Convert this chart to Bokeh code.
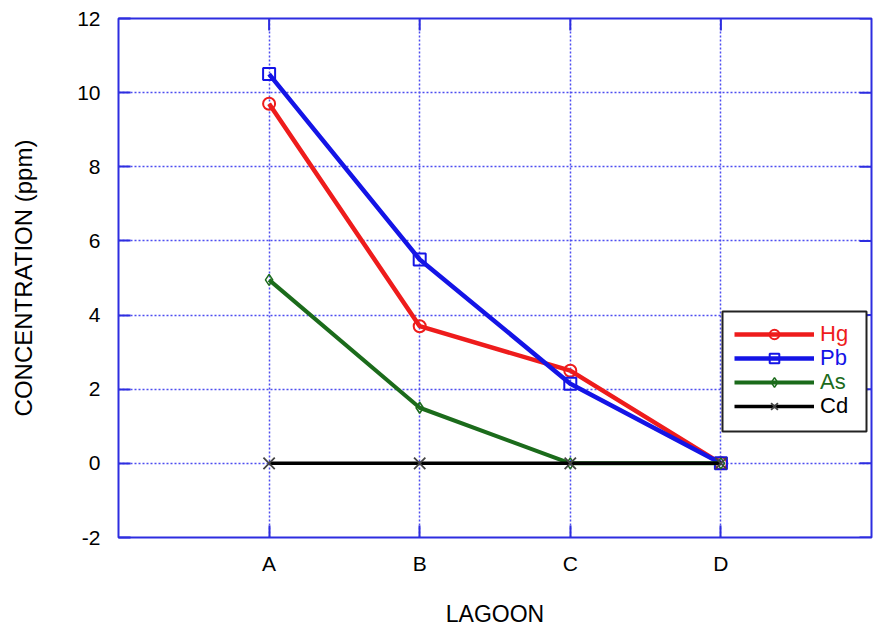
import math
from bokeh.plotting import figure
from bokeh.models import Legend, LegendItem, FixedTicker, Range1d, BoxAnnotation
from bokeh.embed import file_html
from bokeh.resources import INLINE

# ---- data ----
lagoons = ["A", "B", "C", "D"]
hg = [9.7, 3.7, 2.5, 0.0]
pb = [10.5, 5.5, 2.15, 0.0]
as_ = [4.95, 1.5, 0.0, 0.0]
cd = [0.0, 0.0, 0.0, 0.0]
y_ticks = [-2, 0, 2, 4, 6, 8, 10, 12]
series_names = ["Hg", "Pb", "As", "Cd"]

x = list(range(1, len(lagoons) + 1))
x_lo, x_hi = 0, len(lagoons) + 1
y_lo, y_hi = y_ticks[0], y_ticks[-1]

FONT = "Liberation Sans"
FRAME_BLUE = "#2d2de0"
GRID_BLUE = "#4d4df0"

p = figure(width=873, height=630,
           x_range=Range1d(x_lo, x_hi), y_range=Range1d(y_lo, y_hi),
           output_backend="svg", toolbar_location=None,
           min_border_left=118, min_border_right=2, min_border_top=18, min_border_bottom=93)

p.outline_line_color = FRAME_BLUE
p.outline_line_width = 2
p.outline_line_alpha = 1
p.background_fill_color = "white"
p.border_fill_color = "white"

# axes
p.xaxis.ticker = FixedTicker(ticks=x)
p.xaxis.major_label_overrides = {xi: lab for xi, lab in zip(x, lagoons)}
p.yaxis.ticker = FixedTicker(ticks=y_ticks)
p.yaxis.major_label_overrides = {t: str(t) for t in y_ticks}
for ax in (p.xaxis[0], p.yaxis[0]):
    ax.axis_line_color = None
    ax.major_tick_in = 12
    ax.major_tick_out = 0
    ax.major_tick_line_color = FRAME_BLUE
    ax.major_tick_line_width = 2
    ax.minor_tick_line_color = None
    ax.major_label_text_font = FONT
    ax.major_label_text_font_size = "21px"
    ax.major_label_text_color = "black"
    ax.axis_label_text_font = FONT
    ax.axis_label_text_font_size = "23px"
    ax.axis_label_text_font_style = "normal"
    ax.axis_label_text_color = "black"

p.xaxis.axis_label = "LAGOON"
p.xaxis.major_label_standoff = 14
p.xaxis.axis_label_standoff = 23
p.yaxis.axis_label = "CONCENTRATION (ppm)"
p.yaxis.axis_label_text_font_size = "24px"
p.yaxis.major_label_standoff = 18
p.yaxis.axis_label_standoff = 37

# grid
for g in (p.xgrid[0], p.ygrid[0]):
    g.grid_line_color = GRID_BLUE
    g.grid_line_dash = "2 2"
    g.grid_line_width = 1.5
    g.grid_line_alpha = 1

# inward tick marks on the right and top edges (dash markers clipped by the frame)
p.scatter([x_hi] * len(y_ticks), y_ticks, marker="dash", size=24,
          line_color=FRAME_BLUE, line_width=2)
p.scatter(x, [y_hi] * len(x), marker="dash", size=24, angle=math.pi / 2,
          line_color=FRAME_BLUE, line_width=2)

# series
RED = "#ee1c1c"
BLUE = "#1414e6"
GREEN = "#1b6b1b"
BLACK = "#000000"

items = []
r_l = p.line(x, hg, line_color=RED, line_width=4.5)
r_s = p.scatter(x, hg, marker="circle", size=12, fill_color=None, line_color=RED, line_width=2)
items.append(("Hg", RED, [r_l, r_s]))

r_l = p.line(x, pb, line_color=BLUE, line_width=4.5)
r_s = p.scatter(x, pb, marker="square", size=12, fill_color=None, line_color=BLUE, line_width=2)
items.append(("Pb", BLUE, [r_l, r_s]))

r_l = p.line(x, as_, line_color=GREEN, line_width=4)
r_s = p.scatter(x, as_, marker="diamond", size=11, fill_color=None, line_color=GREEN, line_width=1.5)
items.append(("As", GREEN, [r_l, r_s]))

r_l = p.line(x, cd, line_color=BLACK, line_width=3.5)
r_s = p.scatter(x, cd, marker="x", size=16, line_color="#444444", line_width=1.8)
items.append(("Cd", BLACK, [r_l, r_s]))

# legend: a bordered box, then one single-entry legend per row with coloured text
LX, LY = 604, 106
PAD, ROW = 12, 24
n = len(items)
box = BoxAnnotation(left=LX, right=LX + 144, bottom=LY, top=LY + 2 * PAD + n * ROW,
                    left_units="screen", right_units="screen",
                    bottom_units="screen", top_units="screen",
                    fill_color="white", fill_alpha=1,
                    line_color="#222222", line_width=2, line_alpha=1)
p.add_layout(box)

common = dict(padding=PAD, spacing=0, glyph_width=80, glyph_height=ROW, label_height=ROW,
              label_standoff=6, label_text_font=FONT, label_text_font_size="22px",
              margin=0, border_line_alpha=0, background_fill_alpha=0)
for i, (name, col, rs) in enumerate(items):
    lg = Legend(items=[LegendItem(label=name, renderers=rs)],
                location=(LX, LY + (n - 1 - i) * ROW),
                label_text_color=col, **common)
    p.add_layout(lg, "center")

open("out.html", "w").write(file_html(p, INLINE))
